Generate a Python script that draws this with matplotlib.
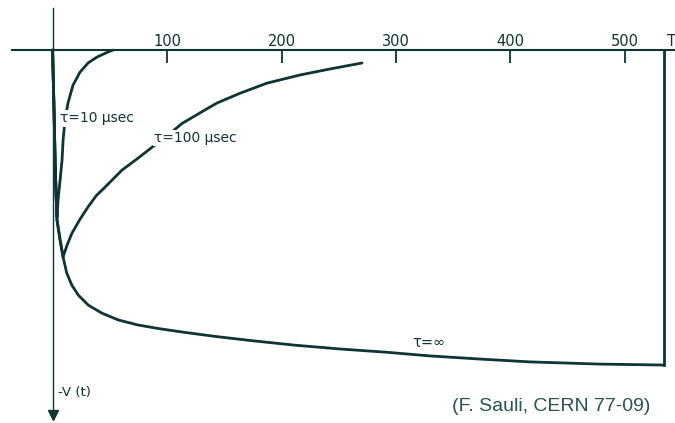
import matplotlib.pyplot as plt

# time in microseconds, signal -V(t) normalised to the full collection value
t_inf = [0, 1.3, 2.2, 3.1, 3.9, 6.6, 9.2, 12.4, 16.8, 22.5, 31.3, 43.0, 57.5, 74.9, 92.4,
         112.8, 141.9, 172.5, 211.8, 251.1, 290.4, 329.7, 373.4, 417.0, 478.2, 534.0]
v_inf = [0, 0.190, 0.349, 0.460, 0.540, 0.603, 0.657, 0.708, 0.746, 0.778, 0.810, 0.835,
         0.857, 0.873, 0.884, 0.895, 0.909, 0.922, 0.937, 0.949, 0.959, 0.971, 0.981,
         0.990, 0.997, 1.0]

t_10 = [0, 1.3, 2.2, 3.1, 3.9, 4.8, 6.6, 8.3, 9.2, 10.9, 13.5, 17.9, 24.0, 31.0, 38.9,
        48.5, 52.8]
v_10 = [0, 0.190, 0.349, 0.460, 0.530, 0.476, 0.413, 0.349, 0.286, 0.222, 0.168, 0.111,
        0.070, 0.041, 0.022, 0.006, 0.0]

t_100 = [0, 1.3, 2.2, 3.1, 3.9, 6.6, 9.2, 12.7, 17.0, 24.0, 31.0, 38.0, 45.9, 60.7, 74.7,
         87.8, 100.9, 113.1, 133.2, 143.7, 163.8, 187.3, 216.2, 242.4, 270.3]
v_100 = [0, 0.190, 0.349, 0.460, 0.540, 0.603, 0.657, 0.619, 0.581, 0.537, 0.498, 0.463,
         0.435, 0.381, 0.343, 0.306, 0.270, 0.233, 0.190, 0.168, 0.137, 0.105, 0.079,
         0.060, 0.041]

T_END = 534
ticks = [100, 200, 300, 400, 500]

ink = '#0f3434'

fig = plt.figure(figsize=(6.75, 4.23), dpi=100)
ax = fig.add_axes([0, 0, 1, 1])
ax.set_xlim(-45.9, 543.7)
ax.set_ylim(1.184, -0.159)

# axes crossing at the origin, time axis on top
for s in ['right', 'bottom']:
    ax.spines[s].set_visible(False)
ax.spines['top'].set_position(('data', 0))
ax.spines['top'].set_bounds(-35.4, 543.7)
ax.spines['top'].set_linewidth(1.5)
ax.spines['top'].set_color(ink)
ax.spines['left'].set_position(('data', 0))
ax.spines['left'].set_bounds(-0.133, 1.16)
ax.spines['left'].set_linewidth(1.0)
ax.spines['left'].set_color(ink)

ax.xaxis.tick_top()
ax.set_xticks(ticks)
ax.set_xticklabels([str(v) for v in ticks], fontsize=10.5, color=ink)
ax.tick_params(axis='x', direction='in', length=9.5, width=1.3, color=ink, pad=1)
ax.set_yticks([])

# arrow head at the bottom of the -V axis
ax.plot([0], [1.158], marker='v', markersize=7, color=ink, clip_on=False)

for t, v in [(t_inf, v_inf), (t_100, v_100), (t_10, v_10)]:
    ax.plot(t, v, color=ink, lw=2.0, solid_capstyle='round', solid_joinstyle='round')
ax.plot([T_END, T_END], [0, 1.0], color=ink, lw=2.0, solid_joinstyle='round')

lbl = dict(fontsize=10, color=ink, va='center', ha='left',
           bbox=dict(facecolor='white', edgecolor='none', pad=1.0))
ax.text(6.4, 0.216, 'τ=10 µsec', **lbl)
ax.text(89.0, 0.279, 'τ=100 µsec', **lbl)
ax.text(314, 0.928, 'τ=∞', fontsize=10.5, color=ink, va='center', ha='left')

ax.text(536.6, -0.027, 'T', fontsize=10.5, color=ink, ha='left', va='center')
ax.text(4.4, 1.086, '-V (t)', fontsize=9.5, color=ink, ha='left', va='center')
ax.text(522, 1.133, '(F. Sauli, CERN 77-09)', fontsize=14, color='#2a5252',
        family='Liberation Sans', ha='right', va='center')

fig.savefig('out.png', dpi=100)
